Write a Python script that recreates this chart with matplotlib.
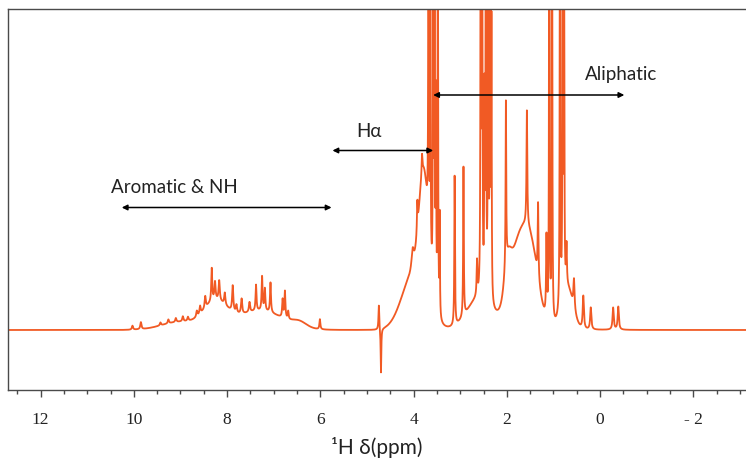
import numpy as np
import matplotlib
matplotlib.use("Agg")
import matplotlib.pyplot as plt
from matplotlib.ticker import MultipleLocator, FixedLocator, FixedFormatter

# ---- spectrum description (ppm, intensity in arbitrary units) ----
# broad envelopes: centre ppm, height, sigma (Gaussian)
broad_center = [9.00, 8.25, 7.30, 6.45, 4.00, 3.78, 2.60, 1.98, 1.72, 1.45, 0.70]
broad_height = [0.08, 0.25, 0.19, 0.05, 0.55, 1.20, 0.30, 0.30, 0.90, 0.45, 0.40]
broad_sigma = [0.40, 0.25, 0.50, 0.15, 0.25, 0.10, 0.25, 0.07, 0.22, 0.15, 0.12]

# sharp resonances: centre ppm, height, half width (Lorentzian)
peak_center = [
    10.03, 9.85, 9.43, 9.26, 9.10, 8.95, 8.84, 8.65, 8.58, 8.47,
    8.33, 8.26, 8.17, 8.05, 7.88, 7.80, 7.69, 7.52, 7.38, 7.25,
    7.19, 7.07, 6.81, 6.76, 6.69, 6.01,
    4.745, 4.700,
    4.02, 3.92, 3.82,
    3.68, 3.64, 3.58, 3.55, 3.52, 3.48, 3.44,
    3.12, 2.93, 2.64, 2.56, 2.53, 2.48, 2.45, 2.40, 2.36, 2.33,
    2.02, 1.57, 1.33, 1.15, 1.09, 1.03, 0.86, 0.80, 0.77, 0.72,
    0.56, 0.36, 0.20, -0.28, -0.39,
]
peak_height = [
    0.04, 0.07, 0.03, 0.04, 0.04, 0.05, 0.04, 0.06, 0.08, 0.12,
    0.33, 0.18, 0.20, 0.12, 0.26, 0.08, 0.15, 0.10, 0.26, 0.34,
    0.22, 0.30, 0.18, 0.27, 0.08, 0.10,
    0.25, -0.45,
    0.20, 0.30, 0.20,
    5.0, 3.0, 5.0, 5.0, 2.0, 5.0, 1.0,
    1.50, 1.50, 0.35, 6.0, 6.0, 1.9, 6.0, 6.0, 6.0, 2.7,
    1.66, 1.15, 0.75, 0.80, 6.0, 6.0, 6.0, 6.0, 3.0, 0.40,
    0.30, 0.33, 0.22, 0.22, 0.23,
]
peak_width = [
    0.015, 0.015, 0.015, 0.015, 0.015, 0.015, 0.015, 0.015, 0.015, 0.015,
    0.012, 0.015, 0.015, 0.015, 0.015, 0.015, 0.015, 0.015, 0.012, 0.012,
    0.012, 0.012, 0.012, 0.012, 0.012, 0.012,
    0.010, 0.008,
    0.03, 0.010, 0.010,
    0.006, 0.006, 0.006, 0.006, 0.006, 0.006, 0.006,
    0.008, 0.008, 0.010, 0.006, 0.006, 0.006, 0.006, 0.006, 0.006, 0.006,
    0.008, 0.010, 0.010, 0.010, 0.006, 0.006, 0.006, 0.006, 0.006, 0.010,
    0.015, 0.015, 0.015, 0.015, 0.015,
]

# ---- region annotations ----
region_labels = ["Aromatic & NH", "H\u03b1", "Aliphatic"]
region_from = [10.26, 5.74, 3.58]
region_to = [5.76, 3.58, -0.52]
arrow_level = [1.225, 1.795, 2.35]
label_x = [10.49, 4.96, 0.32]
label_ha = ["left", "center", "left"]
label_level = [1.37, 1.93, 2.50]

tick_values = [12, 10, 8, 6, 4, 2, 0, -2]
tick_labels = ["12", "10", "8", "6", "4", "2", "0", "- 2"]

# ---- build the trace ----
ppm = np.linspace(12.8, -3.2, 16000)
spec = np.zeros_like(ppm)
for c, h, s in zip(broad_center, broad_height, broad_sigma):
    spec += h * np.exp(-((ppm - c) ** 2) / (2 * s * s))
for c, h, w in zip(peak_center, peak_height, peak_width):
    spec += h / (1 + ((ppm - c) / w) ** 2)

fig = plt.figure(figsize=(7.46, 4.63), dpi=100)
ax = fig.add_axes([8 / 746, 73 / 463, 738 / 746, 381 / 463])
ax.plot(ppm, spec, color="#f15a24", lw=1.3, solid_joinstyle="round")
ax.set_xlim(12.70, -3.13)
ax.set_ylim(-0.60, 3.21)

for sp in ["left", "bottom", "top"]:
    ax.spines[sp].set_color("#4a4a4a")
    ax.spines[sp].set_linewidth(1.0)
ax.spines["right"].set_visible(False)

ax.set_yticks([])
ax.xaxis.set_major_locator(FixedLocator(tick_values))
ax.xaxis.set_major_formatter(FixedFormatter(tick_labels))
ax.xaxis.set_minor_locator(MultipleLocator(0.5))
ax.tick_params(axis="x", which="major", length=5, width=1.0, color="#4a4a4a",
               pad=10.5, labelsize=12.5)
ax.tick_params(axis="x", which="minor", length=3, width=1.0, color="#4a4a4a")
for t in ax.get_xticklabels():
    t.set_fontfamily("Liberation Serif")
    t.set_color("#222222")

ax.set_xlabel("\u00b9H \u03b4(ppm)", fontfamily="Lato", fontsize=15, color="#222222",
              labelpad=7)

for lab, a, b, yl, lx, ha, ly in zip(region_labels, region_from, region_to,
                                     arrow_level, label_x, label_ha, label_level):
    ax.annotate("", xy=(b, yl), xytext=(a, yl),
                arrowprops=dict(arrowstyle="<|-|>", color="black", lw=1.1,
                                mutation_scale=8, shrinkA=0, shrinkB=0))
    ax.text(lx, ly, lab, ha=ha, va="baseline", fontfamily="Lato", fontsize=13.5,
            color="#222222")

fig.savefig("out.png", dpi=100)
